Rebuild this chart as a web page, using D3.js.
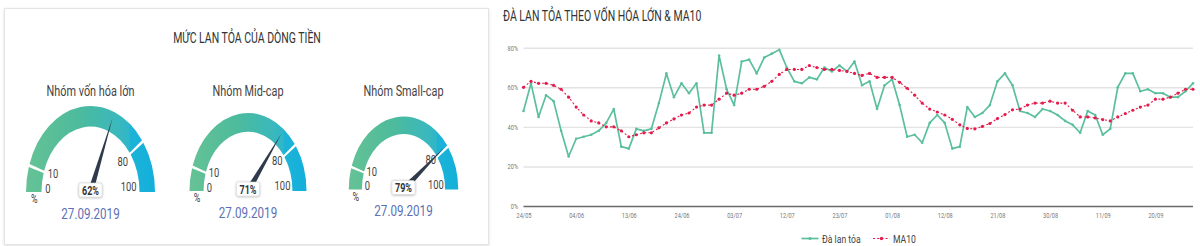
<!DOCTYPE html>
<html><head><meta charset="utf-8">
<script src="https://cdn.jsdelivr.net/npm/d3@7"></script>
<style>
html,body{margin:0;padding:0;background:#fff;}
svg{display:block;font-family:Roboto,"Noto Sans",sans-serif;}
</style></head><body>
<svg id="chart" width="1200" height="246"></svg>
<script>
// ---------------- DATA ----------------
const panelTitle = "MỨC LAN TỎA CỦA DÒNG TIỀN";
const gaugeNames = ["Nhóm vốn hóa lớn", "Nhóm Mid-cap", "Nhóm Small-cap"];
const gaugeValues = [62, 71, 79];
const gaugeDates = ["27.09.2019", "27.09.2019", "27.09.2019"];
const gaugeBands = [0, 10, 80, 100];
const gaugeTickLabels = ["0", "10", "80", "100"];

const chartTitle = "ĐÀ LAN TỎA THEO VỐN HÓA LỚN & MA10";
const seriesNames = ["Đà lan tỏa", "MA10"];
const dates = [
  "24/05","27/05","28/05","29/05","30/05","31/05",
  "03/06","04/06","05/06","06/06","07/06","10/06","11/06","12/06","13/06","14/06",
  "17/06","18/06","19/06","20/06","21/06","24/06","25/06","26/06","27/06","28/06",
  "01/07","02/07","03/07","04/07","05/07","08/07","09/07","10/07","11/07","12/07",
  "15/07","16/07","17/07","18/07","19/07","22/07","23/07","24/07","25/07","26/07",
  "29/07","30/07","31/07",
  "01/08","02/08","05/08","06/08","07/08","08/08","09/08","12/08","13/08","14/08",
  "15/08","16/08","19/08","20/08","21/08","22/08","23/08","26/08","27/08","28/08",
  "29/08","30/08",
  "03/09","04/09","05/09","06/09","09/09","10/09","11/09","12/09","13/09","16/09",
  "17/09","18/09","19/09","20/09","23/09","24/09","25/09","26/09","27/09"
];
const breadth = [
  48,62,45,56,53,38,25,34,35,36,38,42,49,30,29,39,38,39,52,67,
  55,62,57,62,37,37,76,59,51,73,74,67,75,77,79,70,63,62,65,64,
  70,68,71,68,73,61,63,49,61,64,51,35,36,32,42,46,42,29,30,50,
  45,47,51,63,67,61,48,47,45,49,48,46,43,41,37,48,46,36,39,60,
  67,67,58,59,57,57,55,55,58,62
];
const ma10 = [
  60,63,62,62,61,59,55,50,46,43,42,40,40,38,35,36,37,37,39.5,42,
  44,46,47,50,51,51,54,57,56,57,59,59,60.5,63,66.5,69,69,69,71,70,
  69,69,68.5,68,67,66,67,65,65,65,62.5,59.5,56,52,49,47.5,46,43.8,41,39.2,
  39,40.2,41.7,44.2,46.2,48.6,49,51,52,52,53,52,52,48.4,45,45,44.5,43.7,43,45,
  46.7,48.4,50,51,54,54,55,57,59,59
];
const xTickLabels = ["24/05","04/06","13/06","24/06","03/07","12/07","23/07","01/08","12/08","21/08","30/08","11/09","20/09"];
const yTicks = [0, 20, 40, 60, 80];

// ---------------- LAYOUT ----------------
const SX = 0.75; // horizontal squeeze of the original screenshot
const FONT = "Roboto, 'Noto Sans', sans-serif";
const svg = d3.select("#chart");
const defs = svg.append("defs");

const sh = defs.append("filter").attr("id","cardShadow").attr("x","-5%").attr("y","-5%").attr("width","110%").attr("height","110%");
sh.append("feDropShadow").attr("dx",0).attr("dy",1).attr("stdDeviation",1.5).attr("flood-color","#000").attr("flood-opacity",0.12);
const bsh = defs.append("filter").attr("id","boxShadow").attr("x","-30%").attr("y","-40%").attr("width","160%").attr("height","180%");
bsh.append("feDropShadow").attr("dx",0).attr("dy",0.5).attr("stdDeviation",1.2).attr("flood-color","#000").attr("flood-opacity",0.35);

function sText(parent, x, y, str, size, color, anchor, weight) {
  return parent.append("text")
    .attr("transform", `translate(${x},${y}) scale(${SX},1)`)
    .attr("text-anchor", anchor || "middle")
    .attr("font-family", FONT)
    .attr("font-size", size)
    .attr("font-weight", weight || "normal")
    .attr("fill", color)
    .text(str);
}

// Left card
svg.append("rect").attr("x",4.5).attr("y",8.5).attr("width",484).attr("height",236)
  .attr("fill","#fff").attr("stroke","#e4e4e4").attr("filter","url(#cardShadow)");
sText(svg, 247, 43, panelTitle, 14, "#333");

const gLayout = [
  {cx: 90.5, cy: 192, r: 86},
  {cx: 248, cy: 191, r: 78},
  {cx: 403.5, cy: 189.5, r: 73}
];
const ang = v => (v / 100 - 0.5) * Math.PI;
const arcGen = d3.arc();
const tickPos = [
  {fx: -0.66, y: 0.5},
  {fx: -0.58, y: -14},
  {fx: 0.50, y: -26},
  {fx: 0.59, y: -1}
];

gLayout.forEach((L, i) => {
  const grad = defs.append("linearGradient").attr("id", "gg" + i)
    .attr("gradientUnits", "userSpaceOnUse")
    .attr("x1", -L.r).attr("y1", 0).attr("x2", L.r).attr("y2", 0);
  [["0%","#66c295"],["40%","#4dbb9c"],["72%","#3ab8bd"],["80%","#2fb6c9"],["81%","#1db3d6"],["100%","#12b0dc"]]
    .forEach(s => grad.append("stop").attr("offset", s[0]).attr("stop-color", s[1]));

  const g = svg.append("g").attr("transform", `translate(${L.cx},${L.cy}) scale(${SX},1)`);
  const inner = L.r * 0.76;
  const gap = 0.018;
  for (let k = 0; k < gaugeBands.length - 1; k++) {
    g.append("path")
      .attr("d", arcGen({
        innerRadius: inner, outerRadius: L.r,
        startAngle: ang(gaugeBands[k]) + (k > 0 ? gap : 0),
        endAngle: ang(gaugeBands[k + 1]) - (k < gaugeBands.length - 2 ? gap : 0)
      }))
      .attr("fill", `url(#gg${i})`);
  }
  // tick labels
  gaugeTickLabels.forEach((t, k) => {
    g.append("text").attr("x", tickPos[k].fx * L.r).attr("y", tickPos[k].y)
      .attr("text-anchor","middle").attr("font-family",FONT).attr("font-size",12.5)
      .attr("fill","#444").text(t);
  });
  g.append("text").attr("x", -0.87 * L.r).attr("y", 11.5)
    .attr("text-anchor","middle").attr("font-family",FONT).attr("font-size",12)
    .attr("fill","#444").text("%");
  // needle
  const th = ang(gaugeValues[i]);
  const dx = Math.sin(th), dy = -Math.cos(th);
  const px = Math.cos(th), py = Math.sin(th);
  const len = L.r * 0.93, w = 3.6;
  g.append("path")
    .attr("d", `M${w*px},${w*py} L${len*dx},${len*dy} L${-w*px},${-w*py} Z`)
    .attr("fill", "#2f3b4c");
  // value box
  g.append("rect").attr("x",-15.5).attr("y",-9).attr("width",31).attr("height",14).attr("rx",2.5)
    .attr("fill","#fff").attr("stroke","#d0d0d0").attr("stroke-width",0.6).attr("filter","url(#boxShadow)");
  g.append("text").attr("x",0).attr("y",2.6).attr("text-anchor","middle")
    .attr("font-family",FONT).attr("font-size",12).attr("font-weight","bold").attr("fill","#333")
    .text(gaugeValues[i] + "%");
  // date
  g.append("text").attr("x",0).attr("y",27).attr("text-anchor","middle")
    .attr("font-family",FONT).attr("font-size",15.5).attr("fill","#5b6fb4")
    .text(gaugeDates[i]);
  // name
  g.append("text").attr("x",0).attr("y",95.5 - L.cy).attr("text-anchor","middle")
    .attr("font-family",FONT).attr("font-size",14.5).attr("fill","#444")
    .text(gaugeNames[i]);
});

// ---------------- RIGHT CHART ----------------
sText(svg, 503, 20.5, chartTitle, 14, "#333", "start");

const xL = 523.5, xR = 1193;
const x = d3.scalePoint().domain(dates).range([xL, xR]);
const y = d3.scaleLinear().domain([0, 80]).range([206, 47.7]);

const gy = svg.append("g").attr("transform", `translate(${xL},0)`)
  .call(d3.axisLeft(y).tickValues(yTicks).tickSize(-(xR - xL)).tickFormat(d => d + "%"));
gy.select(".domain").remove();
gy.selectAll(".tick line")
  .attr("stroke", d => d === 0 ? "#6a6a6a" : "#e3e3e3")
  .attr("stroke-width", d => d === 0 ? 1.7 : 1.4);
gy.selectAll(".tick text")
  .attr("x", null).attr("dy", null)
  .attr("transform", `translate(-5.5,2.5) scale(${SX},1)`)
  .attr("text-anchor", "end").attr("font-family", FONT).attr("font-size", 7.5).attr("fill", "#777");

const gx = svg.append("g").attr("transform", "translate(0,206)")
  .call(d3.axisBottom(x).tickValues(xTickLabels).tickSize(0).tickPadding(0));
gx.select(".domain").remove();
gx.selectAll(".tick text")
  .attr("y", null).attr("dy", null)
  .attr("transform", `translate(0,12) scale(${SX},1)`)
  .attr("font-family", FONT).attr("font-size", 7.5).attr("fill", "#777");

const GREEN = "#5bbf9f", RED = "#e41b4c";
const line = d3.line().x((d, i) => x(dates[i])).y(d => y(d));

svg.append("path").datum(breadth).attr("d", line)
  .attr("fill","none").attr("stroke",GREEN).attr("stroke-width",1.7).attr("stroke-linejoin","round");
svg.append("g").selectAll("circle").data(breadth).join("circle")
  .attr("cx",(d,i)=>x(dates[i])).attr("cy",d=>y(d)).attr("r",1.3).attr("fill",GREEN);

svg.append("path").datum(ma10).attr("d", line)
  .attr("fill","none").attr("stroke",RED).attr("stroke-width",1.1).attr("stroke-dasharray","2,2.2");
svg.append("g").selectAll("circle").data(ma10).join("circle")
  .attr("cx",(d,i)=>x(dates[i])).attr("cy",d=>y(d)).attr("r",1.6).attr("fill",RED);

// legend
const lg = svg.append("g");
lg.append("line").attr("x1",801.5).attr("x2",818.5).attr("y1",238.5).attr("y2",238.5)
  .attr("stroke",GREEN).attr("stroke-width",1.7);
lg.append("circle").attr("cx",810).attr("cy",238.5).attr("r",1.6).attr("fill",GREEN);
sText(lg, 822, 242.5, seriesNames[0], 11.5, "#444", "start");
lg.append("line").attr("x1",873).attr("x2",890).attr("y1",238.5).attr("y2",238.5)
  .attr("stroke",RED).attr("stroke-width",1.1).attr("stroke-dasharray","2,2.2");
lg.append("circle").attr("cx",881.5).attr("cy",238.5).attr("r",1.7).attr("fill",RED);
sText(lg, 893, 242.5, seriesNames[1], 11.5, "#444", "start");
</script>
</body></html>
